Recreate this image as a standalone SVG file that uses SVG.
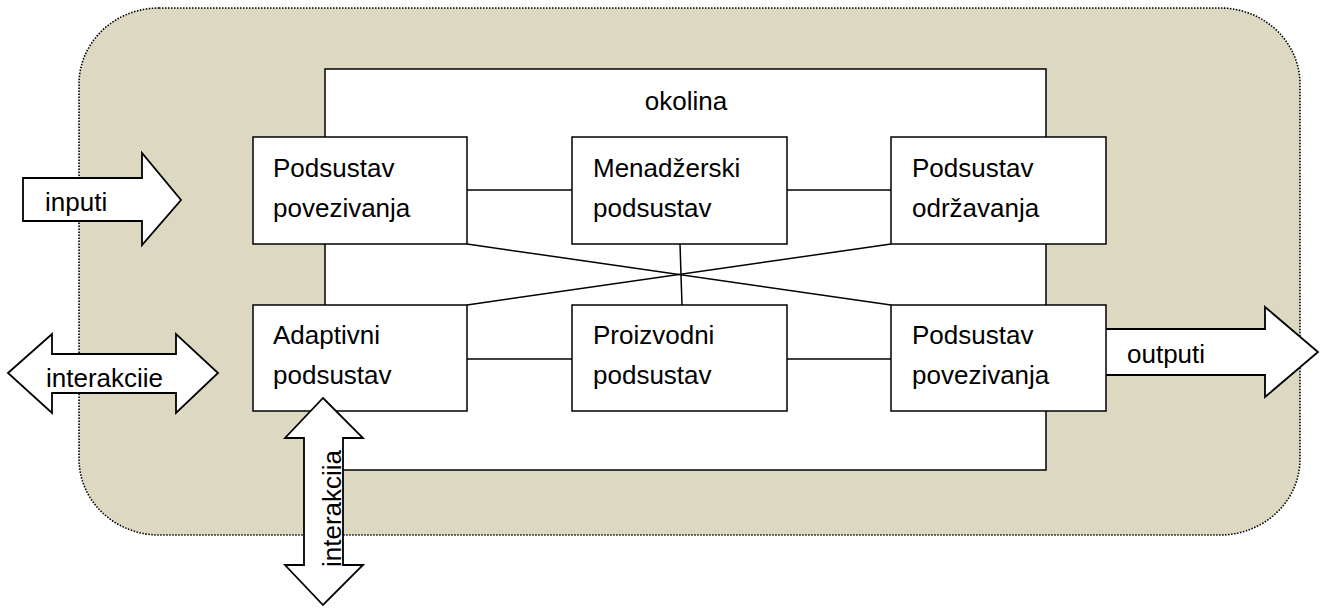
<svg xmlns="http://www.w3.org/2000/svg" width="1320" height="608" viewBox="0 0 1320 608">
<style>
.box{fill:#fff;stroke:#000;stroke-width:1.5}
.arrow{fill:#fff;stroke:#000;stroke-width:1.8;stroke-linejoin:miter}
.ln{stroke:#000;stroke-width:1.5;fill:none}
text{font-family:"Liberation Sans",Arial,sans-serif;font-size:26px;fill:#000}
</style>
<rect width="1320" height="608" fill="#fff"/>
<g id="system">
<rect x="79" y="8" width="1221" height="527" rx="80" ry="76" fill="#DDD8C2" stroke="#000" stroke-width="1.6" stroke-dasharray="1.5 1.5"/>
</g>
<g id="okolina">
<rect x="325" y="69" width="721" height="401" class="box"/>
<text x="686" y="110" text-anchor="middle">okolina</text>
</g>
<g id="arrow-outputi">
<polygon class="arrow" points="1100,329 1265,329 1265,307 1318,352 1265,397 1265,375 1100,375"/>
<text x="1127" y="363">outputi</text>
</g>
<g id="connectors">
<line class="ln" x1="467" y1="190" x2="572" y2="190"/>
<line class="ln" x1="787" y1="190" x2="891" y2="190"/>
<line class="ln" x1="467" y1="359" x2="572" y2="359"/>
<line class="ln" x1="787" y1="359" x2="891" y2="359"/>
<line class="ln" x1="467" y1="244" x2="891" y2="305"/>
<line class="ln" x1="467" y1="305" x2="891" y2="244"/>
<line class="ln" x1="680" y1="244" x2="682" y2="305"/>
</g>
<g id="n-povezivanja-top">
<rect x="253" y="137" width="214" height="107" class="box"/>
<text x="273" y="177">Podsustav</text>
<text x="273" y="217">povezivanja</text>
</g>
<g id="n-menadzerski">
<rect x="572" y="137" width="215" height="107" class="box"/>
<text x="593" y="177">Menadžerski</text>
<text x="593" y="217">podsustav</text>
</g>
<g id="n-odrzavanja">
<rect x="891" y="137" width="215" height="107" class="box"/>
<text x="912" y="177">Podsustav</text>
<text x="912" y="217">održavanja</text>
</g>
<g id="n-adaptivni">
<rect x="253" y="305" width="214" height="106" class="box"/>
<text x="273" y="344">Adaptivni</text>
<text x="273" y="384">podsustav</text>
</g>
<g id="n-proizvodni">
<rect x="572" y="305" width="215" height="106" class="box"/>
<text x="593" y="344">Proizvodni</text>
<text x="593" y="384">podsustav</text>
</g>
<g id="n-povezivanja-bottom">
<rect x="891" y="305" width="215" height="106" class="box"/>
<text x="912" y="344">Podsustav</text>
<text x="912" y="384">povezivanja</text>
</g>
<g id="arrow-inputi">
<polygon class="arrow" points="23,178 142,178 142,153 181,200 142,245 142,221 23,221"/>
<text x="45" y="211">inputi</text>
</g>
<g id="arrow-interakciie">
<polygon class="arrow" points="8,373 52,334 52,354 176,354 176,334 218,373 176,413 176,393 52,393 52,413"/>
<text x="46" y="387">interakciie</text>
</g>
<g id="arrow-interakciia">
<polygon class="arrow" points="323,398 363,438 343,438 343,565 363,565 323,605 285,565 304,565 304,438 285,438"/>
<text transform="translate(341,567) rotate(-90)">interakciia</text>
</g>
</svg>
